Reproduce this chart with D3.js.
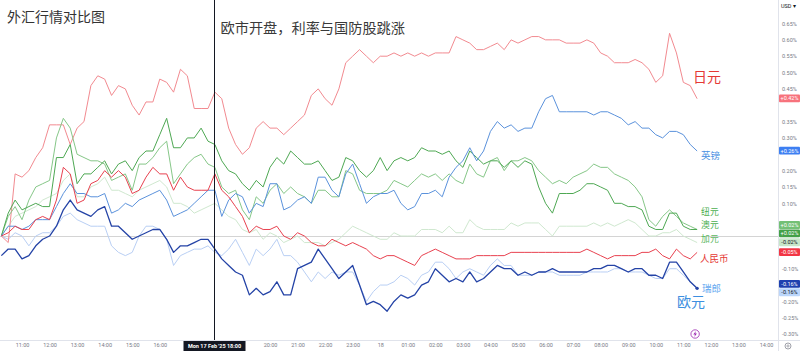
<!DOCTYPE html>
<html>
<head>
<meta charset="utf-8">
<script src="https://cdnjs.cloudflare.com/ajax/libs/d3/7.8.5/d3.min.js"></script>
<style>
    body { margin: 0; background: #ffffff; }
    svg { display: block; }
</style>
</head>
<body>
<div id="chart"></div>
<script>
"use strict"

// 15 minute bars, % change vs USD
const startTime = "2025-02-17T10:15:00";
const stepMinutes = 15;
const crossTime = "2025-02-17T18:00:00";

const jpy = [0.00, -0.02, 0.19, 0.18, 0.20, 0.24, 0.27, 0.34, 0.34, 0.34,
    0.28, 0.33, 0.35, 0.46, 0.49, 0.48, 0.43, 0.46, 0.45, 0.40,
    0.37, 0.41, 0.41, 0.48, 0.47, 0.44, 0.51, 0.49, 0.39, 0.39,
    0.39, 0.44, 0.42, 0.33, 0.28, 0.25, 0.27, 0.33, 0.35, 0.33,
    0.33, 0.31, 0.33, 0.35, 0.37, 0.43, 0.45, 0.42, 0.40, 0.45,
    0.53, 0.55, 0.57, 0.55, 0.53, 0.55, 0.55, 0.56, 0.55, 0.56,
    0.55, 0.56, 0.55, 0.56, 0.56, 0.56, 0.61, 0.60, 0.59, 0.57,
    0.57, 0.58, 0.59, 0.57, 0.60, 0.59, 0.60, 0.61, 0.61, 0.60,
    0.60, 0.60, 0.59, 0.59, 0.59, 0.60, 0.59, 0.56, 0.55, 0.53,
    0.53, 0.53, 0.54, 0.53, 0.51, 0.47, 0.49, 0.62, 0.56, 0.47, 0.46, 0.42];

const gbp = [0.00, 0.03, 0.03, 0.02, 0.03, 0.05, 0.05, 0.05, 0.09, 0.13,
    0.16, 0.13, 0.13, 0.12, 0.12, 0.13, 0.07, 0.08, 0.10, 0.09,
    0.11, 0.12, 0.13, 0.14, 0.11, 0.06, 0.07, 0.08, 0.10, 0.12,
    0.14, 0.14, 0.06, 0.11, 0.13, 0.12, 0.07, 0.10, 0.09, 0.16,
    0.16, 0.08, 0.09, 0.11, 0.12, 0.10, 0.18, 0.18, 0.14, 0.12,
    0.19, 0.22, 0.16, 0.10, 0.12, 0.13, 0.13, 0.14, 0.10, 0.08,
    0.09, 0.13, 0.13, 0.14, 0.12, 0.18, 0.21, 0.23, 0.27, 0.23,
    0.26, 0.32, 0.35, 0.33, 0.34, 0.32, 0.33, 0.33, 0.38, 0.42,
    0.43, 0.38, 0.38, 0.38, 0.38, 0.38, 0.37, 0.38, 0.38, 0.37,
    0.36, 0.34, 0.35, 0.33, 0.33, 0.31, 0.30, 0.32, 0.32, 0.31, 0.28, 0.26];

const nzd = [0.00, 0.06, 0.09, 0.05, 0.11, 0.15, 0.16, 0.17, 0.30, 0.36,
    0.33, 0.25, 0.24, 0.23, 0.23, 0.22, 0.17, 0.18, 0.19, 0.14,
    0.22, 0.22, 0.24, 0.27, 0.29, 0.16, 0.19, 0.22, 0.24, 0.25,
    0.22, 0.21, 0.15, 0.13, 0.14, 0.08, 0.05, 0.12, 0.10, 0.14,
    0.16, 0.13, 0.15, 0.13, 0.12, 0.10, 0.14, 0.14, 0.12, 0.12,
    0.20, 0.19, 0.14, 0.13, 0.13, 0.13, 0.14, 0.17, 0.16, 0.15,
    0.17, 0.19, 0.18, 0.19, 0.17, 0.19, 0.17, 0.16, 0.22, 0.19,
    0.18, 0.23, 0.24, 0.20, 0.23, 0.23, 0.24, 0.23, 0.20, 0.18,
    0.16, 0.17, 0.16, 0.18, 0.19, 0.20, 0.22, 0.21, 0.21, 0.19,
    0.18, 0.17, 0.15, 0.12, 0.05, 0.03, 0.06, 0.08, 0.06, 0.04, 0.03, 0.02];

const aud = [0.00, 0.07, 0.11, 0.08, 0.09, 0.10, 0.09, 0.09, 0.24, 0.24,
    0.28, 0.16, 0.19, 0.19, 0.21, 0.23, 0.19, 0.22, 0.23, 0.20,
    0.24, 0.26, 0.26, 0.31, 0.36, 0.27, 0.27, 0.30, 0.30, 0.33,
    0.29, 0.28, 0.23, 0.20, 0.19, 0.16, 0.14, 0.17, 0.15, 0.21,
    0.24, 0.22, 0.26, 0.24, 0.22, 0.22, 0.23, 0.20, 0.17, 0.18,
    0.24, 0.23, 0.20, 0.18, 0.20, 0.24, 0.20, 0.23, 0.24, 0.23,
    0.24, 0.27, 0.26, 0.26, 0.25, 0.26, 0.23, 0.21, 0.26, 0.24,
    0.22, 0.23, 0.23, 0.21, 0.23, 0.21, 0.23, 0.22, 0.15, 0.10,
    0.07, 0.13, 0.13, 0.13, 0.14, 0.16, 0.16, 0.15, 0.14, 0.10,
    0.10, 0.09, 0.09, 0.08, 0.03, 0.02, 0.02, 0.07, 0.07, 0.03, 0.02, 0.02];

const cad = [0.00, 0.03, 0.06, 0.07, 0.08, 0.09, 0.11, 0.12, 0.13, 0.17,
    0.19, 0.12, 0.12, 0.15, 0.16, 0.18, 0.14, 0.14, 0.13, 0.12,
    0.14, 0.15, 0.16, 0.17, 0.15, 0.10, 0.10, 0.09, 0.07, 0.08,
    0.09, 0.10, 0.08, 0.06, 0.05, 0.02, 0.01, 0.02, -0.01, 0.01,
    0.00, -0.02, -0.01, 0.00, -0.02, -0.02, -0.02, -0.03, -0.02, -0.01,
    0.01, 0.03, 0.02, 0.01, 0.00, -0.01, -0.01, 0.01, 0.00, 0.00,
    0.00, 0.02, 0.02, 0.02, 0.01, 0.03, 0.01, 0.01, 0.05, 0.03,
    0.02, 0.02, 0.02, 0.02, 0.04, 0.03, 0.04, 0.04, 0.04, 0.02,
    0.00, 0.03, 0.03, 0.03, 0.03, 0.03, 0.04, 0.03, 0.04, 0.03,
    0.04, 0.05, 0.04, 0.02, 0.00, 0.00, 0.01, 0.01, 0.02, 0.00, -0.01, -0.02];

const cny = [0.00, 0.01, 0.03, 0.02, 0.02, 0.05, 0.06, 0.05, 0.11, 0.21,
    0.19, 0.10, 0.11, 0.16, 0.17, 0.20, 0.18, 0.20, 0.18, 0.13,
    0.14, 0.18, 0.21, 0.19, 0.19, 0.14, 0.18, 0.15, 0.14, 0.14,
    0.14, 0.19, 0.14, 0.12, 0.09, 0.06, 0.01, 0.03, 0.02, 0.02,
    0.03, 0.00, -0.01, 0.01, 0.00, -0.02, -0.03, -0.03, -0.01, -0.02,
    -0.03, -0.02, -0.03, -0.04, -0.06, -0.07, -0.06, -0.06, -0.07, -0.08,
    -0.09, -0.06, -0.05, -0.04, -0.05, -0.06, -0.07, -0.07, -0.07, -0.06,
    -0.06, -0.06, -0.06, -0.06, -0.05, -0.05, -0.05, -0.05, -0.05, -0.05,
    -0.05, -0.05, -0.05, -0.05, -0.05, -0.04, -0.05, -0.06, -0.07, -0.06,
    -0.06, -0.06, -0.06, -0.05, -0.05, -0.04, -0.06, -0.07, -0.04, -0.06, -0.07, -0.05];

const eur = [-0.06, -0.04, -0.04, -0.07, -0.06, -0.03, -0.01, 0.00, 0.03, 0.08,
    0.11, 0.08, 0.07, 0.06, 0.08, 0.09, 0.03, 0.03, 0.01, -0.01,
    0.00, 0.01, 0.02, 0.02, -0.01, -0.05, -0.03, -0.03, -0.02, -0.01,
    -0.01, -0.04, -0.07, -0.09, -0.11, -0.12, -0.18, -0.16, -0.18, -0.17,
    -0.14, -0.18, -0.18, -0.10, -0.09, -0.08, -0.04, -0.07, -0.10, -0.13,
    -0.11, -0.09, -0.15, -0.21, -0.20, -0.21, -0.23, -0.20, -0.18, -0.19,
    -0.18, -0.15, -0.14, -0.10, -0.12, -0.14, -0.13, -0.14, -0.11, -0.14,
    -0.13, -0.11, -0.09, -0.10, -0.10, -0.12, -0.11, -0.12, -0.11, -0.11,
    -0.10, -0.11, -0.11, -0.11, -0.11, -0.11, -0.10, -0.10, -0.09, -0.09,
    -0.10, -0.11, -0.10, -0.10, -0.12, -0.12, -0.13, -0.08, -0.08, -0.11, -0.14, -0.16];

const chf = [0.00, -0.01, 0.01, 0.00, -0.03, 0.00, 0.01, 0.01, 0.03, 0.06,
    0.07, 0.05, 0.04, 0.03, 0.03, 0.03, -0.03, -0.05, -0.06, -0.05,
    0.00, 0.03, 0.03, 0.02, -0.01, -0.09, -0.06, -0.05, -0.04, -0.04,
    -0.03, -0.05, -0.06, -0.04, -0.01, -0.05, -0.09, -0.04, -0.06, -0.04,
    -0.01, -0.06, -0.06, -0.08, -0.11, -0.14, -0.11, -0.13, -0.11, -0.12,
    -0.11, -0.11, -0.15, -0.20, -0.17, -0.15, -0.15, -0.14, -0.12, -0.13,
    -0.15, -0.12, -0.11, -0.08, -0.08, -0.10, -0.13, -0.11, -0.10, -0.11,
    -0.12, -0.09, -0.07, -0.09, -0.09, -0.12, -0.12, -0.12, -0.11, -0.11,
    -0.11, -0.12, -0.12, -0.12, -0.12, -0.11, -0.11, -0.11, -0.11, -0.10,
    -0.10, -0.11, -0.11, -0.11, -0.12, -0.13, -0.13, -0.10, -0.10, -0.12, -0.14, -0.16];

const yTicks = [0.65, 0.60, 0.55, 0.50, 0.45, 0.40, 0.35, 0.30, 0.25, 0.20, 0.15, 0.10,
    0.05, 0.00, -0.05, -0.10, -0.15, -0.20, -0.25, -0.30];

// tag order = order on price scale when values tie
const series = [
    {key: "jpy", label: "日元", values: jpy, color: "#f28a90", tag: "#f7727c", tagText: "#fff", labelColor: "#e53935", size: 14, dx: -4, dy: -17, width: 1},
    {key: "gbp", label: "英镑", values: gbp, color: "#5b92dc", tag: "#3d7ff2", tagText: "#fff", labelColor: "#4a90e2", size: 9.5, dx: 4, dy: 8, width: 1},
    {key: "nzd", label: "纽元", values: nzd, color: "#86c788", tag: "#74c076", tagText: "#fff", labelColor: "#4caf50", size: 8.8, dx: 4, dy: -14, width: 1},
    {key: "aud", label: "澳元", values: aud, color: "#4ea853", tag: "#43a047", tagText: "#fff", labelColor: "#4caf50", size: 8.8, dx: 4, dy: -1, width: 1},
    {key: "cad", label: "加元", values: cad, color: "#cfe8cf", tag: "#c8e6c9", tagText: "#131722", labelColor: "#5cb85f", size: 8.8, dx: 4, dy: -0.5, width: 1},
    {key: "cny", label: "人民币", values: cny, color: "#e8414f", tag: "#f23645", tagText: "#fff", labelColor: "#e53935", size: 9.5, dx: 3, dy: 10, width: 1},
    {key: "eur", label: "欧元", values: eur, color: "#2443a6", tag: "#1e40af", tagText: "#fff", labelColor: "#3d8fe0", size: 14, dx: -20, dy: 19, width: 1.3},
    {key: "chf", label: "瑞郎", values: chf, color: "#b9cff4", tag: "#bbd6fb", tagText: "#131722", labelColor: "#64a8f0", size: 9.5, dx: 5, dy: 4, width: 1}
];
const drawOrder = ["cad", "chf", "jpy", "nzd", "aud", "gbp", "cny", "eur"];

const width = 800, height = 351;
const plotRight = 778, plotBottom = 340;
const numFont = "Roboto, 'Noto Sans', sans-serif";
const cjkFont = "'Noto Sans CJK SC', sans-serif";

const start = new Date(startTime);
const times = jpy.map((d, i) => d3.timeMinute.offset(start, i * stepMinutes));
const last = times.length - 1;

const x = d3.scaleTime()
    .domain([new Date("2025-02-17T11:00:00"), new Date("2025-02-18T14:00:00")])
    .range([22, 766]);
const y = d3.scaleLinear()
    .domain([-0.30, 0.65])
    .range([334.1, 23.5]);

const svg = d3.select("#chart").append("svg")
    .attr("width", width)
    .attr("height", height);

svg.append("defs").append("clipPath").attr("id", "plot-clip")
    .append("rect").attr("x", 0).attr("y", 0).attr("width", plotRight).attr("height", plotBottom);

// price tags on the scale, pushed apart when they overlap
const tagH = 8.4;
let tags = series.map(s => ({s: s, v: s.values[last], target: y(s.values[last])}));
tags.sort((a, b) => a.target - b.target);
let groups = tags.map(t => ({items: [t], top: t.target - tagH / 2}));
let merged = true;
while (merged) {
    merged = false;
    for (let i = 1; i < groups.length; i++) {
        let a = groups[i - 1], b = groups[i];
        if (a.top + a.items.length * tagH > b.top) {
            let items = a.items.concat(b.items);
            let mean = d3.mean(items, d => d.target);
            groups.splice(i - 1, 2, {items: items, top: mean - items.length * tagH / 2});
            merged = true;
            break;
        }
    }
}
groups.forEach(g => g.items.forEach((t, i) => { t.y = g.top + i * tagH; }));

// zero line
svg.append("line")
    .attr("x1", 0).attr("x2", plotRight)
    .attr("y1", y(0) + 0.5).attr("y2", y(0) + 0.5)
    .attr("stroke", "#d4d4d4");

// borders of the price / time scales
svg.append("line")
    .attr("x1", plotRight + 0.5).attr("x2", plotRight + 0.5)
    .attr("y1", 0).attr("y2", height)
    .attr("stroke", "#e0e3eb");
svg.append("line")
    .attr("x1", 0).attr("x2", width)
    .attr("y1", plotBottom + 0.5).attr("y2", plotBottom + 0.5)
    .attr("stroke", "#e0e3eb");

// y axis, labels under a price tag are hidden
const hiddenByTag = v => tags.some(t => Math.abs(y(v) - (t.y + tagH / 2)) < tagH - 1);
const yAxis = svg.append("g")
    .attr("transform", `translate(${plotRight},0)`)
    .call(d3.axisRight(y).tickValues(yTicks.filter(v => !hiddenByTag(v)))
        .tickSize(0).tickPadding(4)
        .tickFormat(d => d.toFixed(2) + "%"));
yAxis.select(".domain").remove();
yAxis.selectAll("text")
    .attr("fill", "#787b86")
    .style("font-family", numFont)
    .style("font-size", "5.5px");

// x axis, labels under the crosshair box are hidden
const cross = new Date(crossTime);
const crossX = Math.round(x(cross)) - 0.5;
const boxW = 62;
const hourFmt = d3.timeFormat("%H:%M");
const dayFmt = d3.timeFormat("%-d");
const hourTicks = d3.timeHour.every(1).range(x.domain()[0], d3.timeMinute.offset(x.domain()[1], 1))
    .filter(d => Math.abs(x(d) - crossX) > boxW / 2 + 5);
const xAxis = svg.append("g")
    .attr("transform", `translate(0,${plotBottom})`)
    .call(d3.axisBottom(x).tickValues(hourTicks).tickSize(0).tickPadding(3)
        .tickFormat(d => d.getHours() === 0 ? dayFmt(d) : hourFmt(d)));
xAxis.select(".domain").remove();
xAxis.selectAll("text")
    .attr("fill", "#787b86")
    .style("font-family", numFont)
    .style("font-size", "5.5px");

// lines
const line = d3.line()
    .x((d, i) => x(times[i]))
    .y(d => y(d));

const lines = svg.append("g").attr("clip-path", "url(#plot-clip)");
drawOrder.forEach(k => {
    let s = series.find(d => d.key == k);
    lines.append("path")
        .datum(s.values)
        .attr("fill", "none")
        .attr("stroke", s.color)
        .attr("stroke-width", s.width)
        .attr("stroke-linejoin", "round")
        .attr("d", line);
});

const eurSeries = series.find(d => d.key == "eur");
svg.append("circle")
    .attr("cx", x(times[last]))
    .attr("cy", y(eurSeries.values[last]))
    .attr("r", 1.7)
    .attr("fill", eurSeries.color);

// end labels
svg.append("g").selectAll("text").data(series).enter().append("text")
    .attr("x", d => x(times[last]) + d.dx)
    .attr("y", d => y(d.values[last]) + d.dy)
    .attr("fill", d => d.labelColor)
    .style("font-family", cjkFont)
    .style("font-size", d => d.size + "px")
    .text(d => d.label);

// crosshair
svg.append("line")
    .attr("x1", crossX).attr("x2", crossX)
    .attr("y1", 0).attr("y2", plotBottom)
    .attr("stroke", "#131722")
    .attr("stroke-width", 1);
svg.append("rect")
    .attr("x", crossX - boxW / 2).attr("y", plotBottom + 1)
    .attr("width", boxW).attr("height", 10)
    .attr("fill", "#131722");
svg.append("text")
    .attr("x", crossX).attr("y", plotBottom + 8)
    .attr("text-anchor", "middle")
    .attr("fill", "#ffffff")
    .style("font-family", numFont)
    .style("font-size", "5.5px")
    .style("font-weight", "bold")
    .text("Mon 17 Feb '25   18:00");

// titles
svg.append("text")
    .attr("x", 7).attr("y", 22)
    .attr("fill", "#333333")
    .style("font-family", cjkFont)
    .style("font-size", "14px")
    .text("外汇行情对比图");
svg.append("text")
    .attr("x", crossX + 6).attr("y", 33)
    .attr("fill", "#3a3a3a")
    .style("font-family", cjkFont)
    .style("font-size", "14.2px")
    .text("欧市开盘，利率与国防股跳涨");

const tagG = svg.append("g").selectAll("g").data(tags).enter().append("g")
    .attr("transform", d => `translate(${plotRight + 1},${d.y})`);
tagG.append("rect")
    .attr("width", width - plotRight - 1)
    .attr("height", tagH - 0.6)
    .attr("rx", 1)
    .attr("fill", d => d.s.tag);
tagG.append("text")
    .attr("x", (width - plotRight - 1) / 2)
    .attr("y", tagH / 2 + 1.6)
    .attr("text-anchor", "middle")
    .attr("fill", d => d.s.tagText)
    .style("font-family", numFont)
    .style("font-size", "5.5px")
    .text(d => (d.v >= 0 ? "+" : "") + d.v.toFixed(2) + "%");

// currency selector
svg.append("text")
    .attr("x", 781).attr("y", 8)
    .attr("fill", "#131722")
    .style("font-family", numFont)
    .style("font-size", "5.5px")
    .text("USD  ▾");

// event marker on the time scale
const ev = svg.append("g")
    .attr("transform", `translate(${x(times[last]) - 2},${plotBottom - 6})`);
ev.append("circle").attr("r", 4.2).attr("fill", "#fff").attr("stroke", "#9c27b0").attr("stroke-width", 0.8);
ev.append("path")
    .attr("d", "M0.8,-3 L-1.8,0.4 L-0.1,0.4 L-0.8,3 L1.8,-0.4 L0.1,-0.4 Z")
    .attr("fill", "#9c27b0");

// settings icon
const gear = svg.append("g").attr("transform", "translate(788,346)");
gear.append("circle").attr("r", 3).attr("fill", "none").attr("stroke", "#787b86").attr("stroke-width", 0.7);
gear.append("circle").attr("r", 1.1).attr("fill", "none").attr("stroke", "#787b86").attr("stroke-width", 0.6);
</script>
</body>
</html>
